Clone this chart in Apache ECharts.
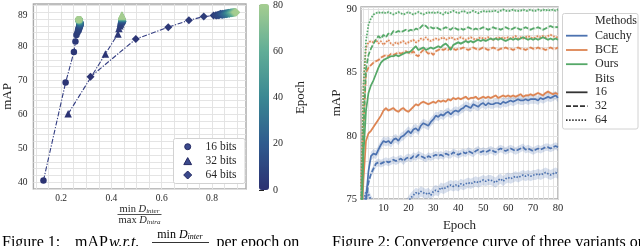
<!DOCTYPE html>
<html><head><meta charset="utf-8">
<script src="https://cdn.jsdelivr.net/npm/echarts@6/dist/echarts.min.js"></script>
<style>html,body{margin:0;padding:0;background:#fff}#c{width:640px;height:246px}</style>
</head><body><div id="c"></div>
<script>
// ---------- Figure 1 data (per epoch: ratio, mAP) ----------
const ratio16 = [0.130,0.218,0.251,0.257,0.261,0.265,0.270,0.268,0.273,0.271,
0.274,0.272,0.276,0.273,0.275,0.277,0.274,0.276,0.275,0.277,
0.274,0.276,0.275,0.273,0.276,0.274,0.275,0.273,0.276,0.274,
0.273,0.275,0.274,0.272,0.275,0.273,0.274,0.272,0.274,0.273,
0.272,0.274,0.273,0.271,0.273,0.272,0.274,0.272,0.271,0.273,
0.272,0.271,0.273,0.272,0.270,0.272,0.271,0.273,0.271,0.272,
0.271,0.270,0.272,0.271,0.272,0.270,0.271,0.272,0.270,0.271,
0.272,0.270,0.271,0.272,0.270,0.271,0.270,0.272,0.271,0.270];
const map16 = [40.5,69.3,78.3,81.4,83.3,84.0,84.6,85.0,85.3,85.6,
85.8,85.9,86.0,86.2,86.1,86.3,86.4,86.3,86.5,86.6,
86.5,86.7,86.8,86.6,86.8,86.9,86.8,87.0,86.9,87.0,
87.1,87.0,87.1,87.2,87.1,87.2,87.3,87.2,87.3,87.2,
87.3,87.4,87.3,87.4,87.3,87.4,87.5,87.4,87.5,87.4,
87.5,87.6,87.5,87.6,87.5,87.6,87.5,87.6,87.7,87.6,
87.6,87.7,87.6,87.7,87.6,87.7,87.8,87.7,87.7,87.8,
87.7,87.8,87.7,87.8,87.8,87.9,87.8,87.9,87.8,87.9];
const ratio32 = [0.228,0.376,0.426,0.430,0.434,0.437,0.436,0.439,0.441,0.438,
0.440,0.442,0.439,0.441,0.443,0.440,0.442,0.444,0.441,0.443,
0.442,0.444,0.441,0.443,0.445,0.442,0.444,0.443,0.441,0.443,
0.444,0.442,0.443,0.445,0.443,0.442,0.444,0.443,0.442,0.444,
0.443,0.441,0.443,0.444,0.442,0.443,0.441,0.443,0.442,0.444,
0.442,0.443,0.441,0.442,0.444,0.442,0.443,0.441,0.443,0.442,
0.441,0.443,0.442,0.444,0.442,0.443,0.441,0.442,0.443,0.442,
0.443,0.441,0.442,0.443,0.442,0.441,0.443,0.442,0.441,0.442];
const map32 = [60.1,77.7,83.6,85.2,86.0,86.5,86.8,87.1,87.3,87.4,
87.5,87.6,87.7,87.8,87.7,87.9,88.0,87.9,88.0,88.1,
88.0,88.1,88.2,88.1,88.2,88.3,88.2,88.3,88.2,88.3,
88.4,88.3,88.4,88.3,88.4,88.5,88.4,88.5,88.4,88.5,
88.4,88.5,88.6,88.5,88.6,88.5,88.6,88.5,88.6,88.7,
88.6,88.7,88.6,88.7,88.6,88.7,88.8,88.7,88.8,88.7,
88.8,88.7,88.8,88.9,88.8,88.9,88.8,88.9,88.8,88.9,
88.9,89.0,88.9,89.0,88.9,89.0,89.1,89.0,89.1,89.0];
const ratio64 = [0.317,0.497,0.626,0.708,0.767,0.806,0.815,0.822,0.818,0.828,
0.826,0.832,0.830,0.836,0.834,0.840,0.838,0.843,0.841,0.846,
0.844,0.849,0.847,0.851,0.850,0.854,0.852,0.856,0.855,0.858,
0.857,0.860,0.859,0.862,0.861,0.864,0.863,0.866,0.865,0.868,
0.867,0.869,0.868,0.871,0.870,0.872,0.871,0.874,0.873,0.875,
0.874,0.876,0.875,0.878,0.877,0.879,0.878,0.881,0.880,0.882,
0.881,0.883,0.882,0.885,0.884,0.886,0.885,0.888,0.887,0.889,
0.888,0.890,0.889,0.892,0.891,0.893,0.892,0.895,0.894,0.896];
const map64 = [71.0,82.1,85.6,87.6,88.7,89.0,89.1,89.2,89.0,89.3,
89.1,89.4,89.2,89.3,89.5,89.2,89.4,89.3,89.5,89.4,
89.3,89.6,89.4,89.5,89.3,89.6,89.5,89.4,89.6,89.5,
89.7,89.5,89.6,89.7,89.5,89.6,89.7,89.6,89.8,89.6,
89.7,89.6,89.8,89.7,89.6,89.8,89.7,89.8,89.7,89.9,
89.8,89.7,89.8,89.9,89.8,89.7,89.9,89.8,89.9,89.8,
89.9,89.8,89.9,90.0,89.9,89.8,89.9,90.0,89.9,89.9,
90.0,89.9,90.0,89.9,90.0,90.0,89.9,90.0,90.0,89.9];

// ---------- Figure 2 data (mAP per epoch) ----------
const cauchy16 = [70.5,72.8,75.0,77.2,78.4,78.6,78.5,78.9,79.3,79.6,
79.5,79.6,79.4,79.7,79.8,79.6,79.9,80.0,80.2,80.4,
80.2,80.5,80.6,80.4,80.8,81.0,80.9,80.8,81.1,81.3,
81.6,81.5,81.7,81.6,81.8,81.9,81.7,81.9,82.0,81.9,
82.1,82.2,82.4,82.3,82.2,82.5,82.4,82.3,82.5,82.6,
82.4,82.6,82.5,82.5,82.6,82.6,82.5,82.7,82.6,82.7,
82.8,82.7,82.8,82.9,82.8,82.8,82.9,82.8,82.9,82.9,
82.9,82.8,83.0,82.9,83.0,83.1,83.0,83.1,83.2,83.0];
const cauchy32 = [70.0,72.5,74.8,76.3,77.0,77.4,77.8,77.9,77.8,77.9,
78.0,77.9,78.0,78.1,78.0,78.1,78.2,78.0,78.2,78.3,
78.2,78.4,78.3,78.5,78.4,78.3,78.2,78.4,78.3,78.4,
78.5,78.4,78.5,78.4,78.6,78.5,78.5,78.7,78.6,78.5,
78.6,78.7,78.6,78.8,78.7,78.6,78.8,78.9,78.7,78.8,
78.7,78.8,78.9,78.8,78.7,78.9,79.0,78.9,78.8,78.9,
79.0,78.9,78.8,78.9,79.0,79.1,78.9,79.0,78.9,78.8,
78.9,79.0,78.9,79.0,79.1,79.1,79.0,79.1,79.2,79.1];
const cauchy64 = [73.0,74.8,75.6,75.4,74.9,74.6,74.3,74.5,74.2,74.4,
74.3,74.6,74.2,74.4,74.1,74.5,74.3,74.2,74.6,74.8,
75.1,75.3,75.5,75.4,75.6,75.5,75.4,75.5,75.3,75.6,
75.7,75.6,75.9,75.8,75.9,76.0,76.1,76.0,76.1,76.0,
76.2,76.1,76.2,76.3,76.2,76.3,76.4,76.3,76.4,76.5,
76.4,76.5,76.5,76.4,76.3,76.5,76.6,76.4,76.6,76.7,
76.6,76.7,76.8,76.7,76.8,76.9,76.8,76.9,76.8,76.9,
76.9,77.0,76.9,77.0,77.1,77.0,76.9,77.0,77.1,77.0];
const bce16 = [72.5,76.5,79.6,80.2,80.4,80.7,81.0,81.3,81.6,82.0,
82.2,82.0,82.1,82.2,82.0,81.9,82.1,82.2,82.0,81.9,
82.1,82.3,82.5,82.4,82.6,82.7,82.6,82.5,82.6,82.7,
82.6,82.8,82.7,82.8,82.7,82.9,82.8,83.0,82.9,83.0,
82.9,83.0,83.1,82.9,83.0,83.0,83.1,82.9,83.0,83.1,
83.0,83.1,83.0,83.1,83.2,83.0,83.1,83.2,83.1,83.2,
83.1,83.2,83.1,83.2,83.3,83.1,83.2,83.2,83.3,83.2,
83.3,83.4,83.3,83.2,83.4,83.5,83.4,83.3,83.4,83.3];
const bce32 = [74.0,80.5,85.0,85.4,85.6,85.8,85.9,86.0,86.2,86.3,
86.4,86.3,86.5,86.4,86.5,86.6,86.5,86.6,86.7,86.6,
86.5,86.7,86.4,86.3,86.6,86.8,86.7,86.5,86.6,86.4,
86.7,86.8,86.9,86.8,86.9,86.8,87.0,86.9,86.8,86.9,
86.9,87.0,86.9,86.8,86.9,87.0,86.9,86.8,86.9,87.0,
86.9,86.8,86.9,87.0,86.9,86.8,86.9,86.9,87.0,86.9,
86.9,86.8,86.9,87.0,86.9,86.9,86.8,86.9,87.0,86.9,
86.9,87.0,86.9,86.9,86.8,86.9,87.0,86.9,86.9,87.0];
const bce64 = [76.0,84.0,87.0,87.4,87.5,87.4,87.6,87.3,87.5,87.2,
87.4,87.6,87.3,87.2,87.4,87.3,87.4,87.5,87.3,87.4,
87.5,87.6,87.4,87.5,87.7,87.6,87.8,87.6,87.5,87.6,
87.7,87.6,87.7,87.8,87.6,87.7,87.8,87.7,87.6,87.7,
87.8,87.7,87.6,87.7,87.8,87.7,87.6,87.7,87.8,87.7,
87.7,87.8,87.7,87.6,87.7,87.8,87.7,87.8,87.7,87.8,
87.7,87.8,87.9,87.7,87.8,87.7,87.8,87.9,87.8,87.7,
87.8,87.9,87.8,87.9,87.8,87.9,88.0,87.9,87.8,87.8];
const ours16 = [72.0,78.5,82.0,83.4,84.0,84.4,84.9,85.4,85.8,86.0,
86.1,86.2,86.3,86.3,86.4,86.3,86.4,86.5,86.6,86.6,
86.7,86.9,87.1,86.8,86.9,87.0,86.8,86.9,87.0,86.9,
87.0,87.1,87.0,87.2,87.3,87.1,86.8,87.2,87.3,87.4,
87.3,87.4,87.5,87.4,87.5,87.4,87.5,87.6,87.5,87.6,
87.5,87.6,87.7,87.6,87.7,87.6,87.7,87.6,87.5,87.6,
87.7,87.6,87.7,87.6,87.7,87.8,87.7,87.6,87.7,87.6,
87.7,87.6,87.7,87.8,87.7,87.6,87.7,87.6,87.7,87.6];
const ours32 = [73.0,80.5,85.3,86.4,86.9,87.3,87.6,87.9,87.7,88.0,
87.8,88.1,88.0,88.3,88.2,88.3,88.2,88.3,88.4,88.3,
88.4,88.3,88.5,88.4,88.6,88.8,88.7,88.5,88.6,88.5,
88.6,88.5,88.4,88.5,88.6,88.5,88.4,88.6,88.5,88.4,
88.5,88.4,88.5,88.6,88.5,88.4,88.5,88.4,88.5,88.6,
88.5,88.4,88.5,88.6,88.5,88.5,88.4,88.5,88.6,88.5,
88.4,88.5,88.6,88.5,88.4,88.5,88.6,88.5,88.4,88.5,
88.5,88.6,88.5,88.4,88.5,88.6,88.7,88.6,88.6,88.6];
const ours64 = [74.0,84.0,87.5,88.8,89.3,89.6,89.7,89.8,89.7,89.8,
89.7,89.8,89.7,89.6,89.7,89.8,89.7,89.6,89.7,89.8,
89.7,89.6,89.7,89.8,89.7,89.6,89.7,89.8,89.7,89.8,
89.7,89.8,89.7,89.6,89.8,89.7,89.8,89.9,89.8,89.7,
89.8,89.9,89.8,89.7,89.8,89.9,89.8,89.7,89.8,89.9,
89.8,89.9,89.8,89.9,89.9,89.8,89.9,90.0,89.9,89.9,
89.9,90.0,89.9,89.9,89.9,90.0,89.9,89.9,90.0,89.9,
89.9,90.0,89.9,90.0,89.9,90.0,89.9,90.0,89.9,90.0];
const cauchyBand = [0.35,0.3,0.4];
const bceBand = [0.12,0.12,0.12];
const oursBand = [0.1,0.1,0.1];

// ---------- tick labels ----------
const leftYTicks = [40,50,60,70,80,89];
const leftXTicks = [20,40,60,80];   // in hundredths
const colorbarTicks = [0,20,40,60,80];
const rightYTicks = [75,80,85,90];
const rightXTicks = [10,20,30,40,50,60,70,80];
const bitsNames = ['16','32','64'];
const methodNames = ['Cauchy','BCE','Ours'];

const epochs = ratio16.map((_, i) => i + 1);

const FONT = '"Liberation Serif","DejaVu Serif",serif';
const TXT = '#262626';
const GRIDC = '#e1e1e1';
const CLEAR = 'rgba(0,0,0,0)';
const crest = ['#2c3172','#2f5b8e','#3a8893','#62ae97','#a5cd90'];
const R_MIN = 75, R_MAX = 90.2;

const chart = echarts.init(document.getElementById('c'));

const series = [];
const left = [[ratio16,map16,'circle',6.5],[ratio32,map32,'triangle',7.5],[ratio64,map64,'diamond',8]];
left.forEach(([rx, my]) => {
  series.push({type:'line', xAxisIndex:0, yAxisIndex:0, silent:true, symbol:'none', z:2,
    data: rx.map((x, i) => [x, my[i]]),
    lineStyle:{color:'#333d82', width:1.1, type:[5,1.6,1.2,1.6]}});
});
left.forEach(([rx, my, sym, size]) => {
  series.push({type:'scatter', xAxisIndex:0, yAxisIndex:0, silent:true, symbol:sym, symbolSize:size, z:3,
    data: rx.map((x, i) => [x, my[i], epochs[i]]),
    itemStyle:{borderWidth:0, opacity:1}});
});

const methods = [
  {color:'#4c72b0', fill:'rgba(76,114,176,0.22)', data:[cauchy16,cauchy32,cauchy64], band:cauchyBand},
  {color:'#dd8452', fill:'rgba(221,132,82,0.18)', data:[bce16,bce32,bce64], band:bceBand},
  {color:'#55a868', fill:'rgba(85,168,104,0.18)', data:[ours16,ours32,ours64], band:oursBand}
];
const dashes = ['solid',[5,2],[1.5,1.6]];
methods.forEach(m => {
  m.data.forEach((arr, b) => {
    const w = m.band[b];
    series.push({type:'custom', xAxisIndex:2, yAxisIndex:2, silent:true, z:1, clip:true,
      data:[[epochs[0], arr[0]]],
      renderItem:(params, api) => {
        const up = arr.map((v, i) => api.coord([epochs[i], Math.min(Math.max(v + w, R_MIN), R_MAX)]));
        const lo = arr.map((v, i) => api.coord([epochs[i], Math.min(Math.max(v - w, R_MIN), R_MAX)])).reverse();
        return {type:'polygon', shape:{points: up.concat(lo)}, style:{fill:m.fill}};
      }});
  });
});
methods.forEach(m => {
  m.data.forEach((arr, b) => {
    series.push({type:'line', xAxisIndex:2, yAxisIndex:2, silent:true, symbol:'none', z:3,
      data: arr.map((v, i) => [epochs[i], v]),
      lineStyle:{color:m.color, width:1.7, type:dashes[b]}});
  });
});

const lbl = (extra) => Object.assign({color:TXT, fontFamily:FONT}, extra);

// legends / captions as graphics
const g = [];
const Z = 100;
// left legend
g.push({type:'rect', z:Z, shape:{x:173.5, y:138.5, width:71.5, height:45, r:2}, style:{fill:'#fff', stroke:'#d2d2d2', lineWidth:1}});
const mk = {fill:'#3b4a8c', stroke:'#232862', lineWidth:1};
g.push({type:'circle', z:Z, shape:{cx:187.7, cy:146.7, r:3}, style:mk});
g.push({type:'polygon', z:Z, shape:{points:[[187.7,157.6],[191.6,164.6],[183.8,164.6]]}, style:mk});
g.push({type:'polygon', z:Z, shape:{points:[[187.7,171],[191.7,175],[187.7,179],[183.7,175]]}, style:mk});
[146.7,161.3,175].forEach((y, i) => {
  g.push({type:'text', z:Z, style:{text:bitsNames[i] + ' bits', x:205.5, y:y, align:'left', verticalAlign:'middle', font:'11.5px ' + FONT, fill:TXT}});
});
// right legend
g.push({type:'rect', z:Z, shape:{x:562.5, y:13.5, width:75.5, height:115.5, r:2}, style:{fill:'#fff', stroke:'#d2d2d2', lineWidth:1}});
const rows = [21.3,35.7,50,64.2,78.4,92.3,106.2,120.2];
const rowText = ['Methods'].concat(methodNames, ['Bits'], bitsNames);
rowText.forEach((t, i) => {
  g.push({type:'text', z:Z, style:{text:t, x:595, y:rows[i], align:'left', verticalAlign:'middle', font:'12px ' + FONT, fill:TXT}});
});
methods.forEach((m, i) => {
  g.push({type:'line', z:Z, shape:{x1:566, y1:rows[1+i], x2:587.5, y2:rows[1+i]}, style:{stroke:m.color, lineWidth:1.8}});
});
dashes.forEach((d, i) => {
  g.push({type:'line', z:Z, shape:{x1:566, y1:rows[5+i], x2:587.5, y2:rows[5+i]}, style:{stroke:'#333', lineWidth:1.8, lineDash: d === 'solid' ? null : d}});
});
// left x-axis name (fraction)
const richF = {
  a:{fontSize:10.5, fontFamily:FONT, fill:TXT, lineHeight:11},
  d:{fontSize:10.5, fontFamily:FONT, fontStyle:'italic', fill:TXT, lineHeight:11},
  s:{fontSize:7, fontFamily:FONT, fontStyle:'italic', fill:TXT, lineHeight:7, verticalAlign:'bottom'}
};
g.push({type:'text', z:Z, style:{text:'{a|min }{d|D}{s|inter}', x:139.5, y:209.5, align:'center', verticalAlign:'middle', rich:richF}});
g.push({type:'line', z:Z, shape:{x1:117.5, y1:214.5, x2:161.5, y2:214.5}, style:{stroke:TXT, lineWidth:0.8}});
g.push({type:'text', z:Z, style:{text:'{a|max }{d|D}{s|intra}', x:139.5, y:220, align:'center', verticalAlign:'middle', rich:richF}});
// captions
const capFont = '16px ' + FONT;
g.push({type:'text', z:Z, style:{text:'Figure 1:', x:2, y:243, verticalAlign:'middle', font:capFont, fill:'#000'}});
g.push({type:'text', z:Z, style:{text:'mAP', x:75, y:243, verticalAlign:'middle', font:capFont, fill:'#000'}});
g.push({type:'text', z:Z, style:{text:'w.r.t.', x:109, y:243, verticalAlign:'middle', font:'italic ' + capFont, fill:'#000'}});
g.push({type:'text', z:Z, style:{text:'{a|min }{d|D}{s|inter}', x:180, y:235, align:'center', verticalAlign:'middle',
  rich:{a:{fontSize:12, fontFamily:FONT, fill:'#000', lineHeight:12}, d:{fontSize:12, fontFamily:FONT, fontStyle:'italic', fill:'#000', lineHeight:12}, s:{fontSize:8, fontFamily:FONT, fontStyle:'italic', fill:'#000', lineHeight:8, verticalAlign:'bottom'}}}});
g.push({type:'line', z:Z, shape:{x1:152, y1:242.5, x2:209, y2:242.5}, style:{stroke:'#000', lineWidth:0.8}});
g.push({type:'text', z:Z, style:{text:'per epoch on', x:216.5, y:243, verticalAlign:'middle', font:capFont, fill:'#000'}});
g.push({type:'text', z:Z, style:{text:'Figure 2: Convergence curve of three variants on', x:332, y:243, verticalAlign:'middle', font:capFont, fill:'#000'}});

chart.setOption({
  animation:false,
  backgroundColor:'#fff',
  grid:[
    {left:31, top:4, width:215, height:185, show:true, borderColor:'#a9a9a9', borderWidth:1.4, backgroundColor:CLEAR},
    {left:259, top:4, width:10, height:186, show:false},
    {left:361, top:7, width:197, height:192, show:true, borderColor:'#a9a9a9', borderWidth:1.4, backgroundColor:CLEAR}
  ],
  xAxis:[
    {type:'value', gridIndex:0, min:0.09, max:0.935, interval:0.01,
     axisLine:{show:false}, axisTick:{show:false},
     splitLine:{show:true, showMinLine:true, lineStyle:{color:[CLEAR,GRIDC,CLEAR,CLEAR,CLEAR], width:0.9}},
     axisLabel:lbl({fontSize:9.5, margin:4, formatter:(v) => { const h = Math.round(v * 100); return leftXTicks.includes(h) ? (h / 100).toFixed(1) : ''; }})},
    {type:'value', gridIndex:1, min:0, max:1, show:false},
    {type:'value', gridIndex:2, min:1, max:80, interval:1,
     axisLine:{show:false}, axisTick:{show:false},
     splitLine:{show:true, showMinLine:true, lineStyle:{color:[CLEAR,GRIDC], width:0.9}},
     axisLabel:lbl({fontSize:10.5, margin:4, formatter:(v) => rightXTicks.includes(Math.round(v)) ? String(Math.round(v)) : ''}),
     name:'Epoch', nameLocation:'middle', nameGap:13, nameTextStyle:lbl({fontSize:13})}
  ],
  yAxis:[
    {type:'value', gridIndex:0, min:38, max:92.4, interval:1,
     axisLine:{show:false}, axisTick:{show:false},
     splitLine:{show:true, showMinLine:true, lineStyle:{color:[GRIDC,CLEAR], width:0.9}},
     axisLabel:lbl({fontSize:9.5, margin:6, formatter:(v) => leftYTicks.includes(Math.round(v)) ? String(Math.round(v)) : ''}),
     name:'mAP', nameLocation:'middle', nameGap:18, nameRotate:90, nameTextStyle:lbl({fontSize:13})},
    {type:'value', gridIndex:1, min:0, max:80, interval:20, position:'right',
     axisLine:{show:false}, axisTick:{show:true, length:5, lineStyle:{color:TXT, width:1}},
     splitLine:{show:false},
     axisLabel:lbl({fontSize:10, margin:4, formatter:(v) => colorbarTicks.includes(v) ? String(v) : ''}),
     name:'Epoch', nameLocation:'middle', nameGap:25, nameRotate:90, nameTextStyle:lbl({fontSize:13})},
    {type:'value', gridIndex:2, min:R_MIN, max:R_MAX, interval:1,
     axisLine:{show:false}, axisTick:{show:false},
     splitLine:{show:true, lineStyle:{color:GRIDC, width:0.9}},
     axisLabel:lbl({fontSize:10.5, margin:4, formatter:(v) => rightYTicks.includes(Math.round(v)) ? String(Math.round(v)) : ''}),
     name:'mAP', nameLocation:'middle', nameGap:17, nameRotate:90, nameTextStyle:lbl({fontSize:13})}
  ],
  visualMap:[{type:'continuous', min:0, max:80, dimension:2, seriesIndex:[3,4,5],
    inRange:{color:crest}, left:259, top:4, itemWidth:10, itemHeight:186, padding:0,
    calculable:false, hoverLink:false, text:null, show:true}],
  series:series,
  graphic:g
});
</script></body></html>
